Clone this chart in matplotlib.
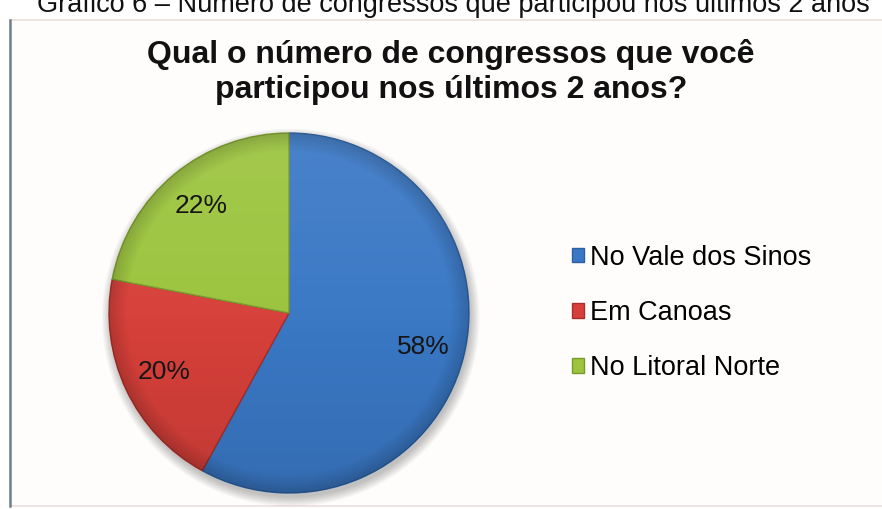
import numpy as np
import matplotlib
matplotlib.use("Agg")
import matplotlib.pyplot as plt
from matplotlib.patches import Rectangle, Circle
from matplotlib.lines import Line2D

plt.rcParams['font.family'] = ['Liberation Sans', 'DejaVu Sans']

# Survey answers
categories = ["No Vale dos Sinos", "Em Canoas", "No Litoral Norte"]
shares = [58, 20, 22]
slice_colors = ["#3a78c5", "#d7403a", "#9cc43e"]
edge_colors = ["#2b5f9e", "#a52f2b", "#789a2c"]

caption = "Gráfico 6 – Número de congressos que participou nos últimos 2 anos"
title_lines = ["Qual o número de congressos que você",
               "participou nos últimos 2 anos?"]

W, H = 882, 509
fig = plt.figure(figsize=(W / 100, H / 100), dpi=100)
fig.patch.set_facecolor("white")


def fx(px):
    return px / W


def fy(py):
    return 1 - py / H


# chart frame (drawn beneath the axes)
frame = Rectangle((fx(10), fy(506)), fx(W + 20) - fx(10), fy(20) - fy(506),
                  transform=fig.transFigure, facecolor="#fffdfc",
                  edgecolor="#eadfda", linewidth=1.2, zorder=-2)
fig.patches.append(frame)
fig.add_artist(Line2D([fx(10), fx(10)], [fy(20), fy(506)], color="#6f7f8e",
                      linewidth=1.8, transform=fig.transFigure, zorder=-1))

# caption above the frame (partly cut off by the top edge)
fig.text(fx(453), fy(12), caption, ha="center", va="baseline", fontsize=19.5,
         color="#111111")

# title
fig.text(fx(451), fy(63), title_lines[0], ha="center", va="baseline",
         fontsize=23, fontweight="bold", color="#111111")
fig.text(fx(451), fy(98), title_lines[1], ha="center", va="baseline",
         fontsize=23, fontweight="bold", color="#111111")

# pie axes: centre (289, 313) px, radius 180 px
cx, cy, r = 289, 313, 180
half = 1.1 * r
ax = fig.add_axes([fx(cx - half), fy(cy + half), 2 * half / W, 2 * half / H])
ax.set_xlim(-1.1, 1.1)
ax.set_ylim(-1.1, 1.1)
ax.set_aspect("equal")
ax.axis("off")
ax.patch.set_alpha(0)

# soft drop shadow
for i in range(8):
    ax.add_patch(Circle((0.01, -0.025), 1.0 + 0.007 * i, facecolor="black",
                        edgecolor="none", alpha=0.03, zorder=0))

wedges, texts, autotexts = ax.pie(
    shares, colors=slice_colors, startangle=90, counterclock=False,
    radius=1.0, autopct=lambda p: f"{p:.0f}%", pctdistance=0.77,
    wedgeprops=dict(linewidth=1.0), textprops=dict(fontsize=19,
                                                   color="#151515"))
for w, ec in zip(wedges, edge_colors):
    w.set_edgecolor(ec)
    w.set_zorder(1)
for t in autotexts:
    t.set_zorder(5)

# gentle shading: lighter top, darker bottom and rim
n = 400
xs = np.linspace(-1.1, 1.1, n)
X, Y = np.meshgrid(xs, xs[::-1])
R = np.hypot(X, Y)
light = np.zeros((n, n, 4))
light[..., :3] = 1.0
light[..., 3] = np.clip((Y + 0.2) / 1.2, 0, 1) * 0.08
dark = np.zeros((n, n, 4))
dark[..., 3] = np.clip(-Y / 1.0, 0, 1) * 0.10 + np.clip((R - 0.9) / 0.1, 0, 1) * 0.16
for w in wedges:
    for img in (light, dark):
        im = ax.imshow(img, extent=(-1.1, 1.1, -1.1, 1.1), zorder=2,
                       interpolation="bilinear")
        im.set_clip_path(w)
ax.set_xlim(-1.1, 1.1)
ax.set_ylim(-1.1, 1.1)

# legend
fig.legend(wedges, categories, loc="center left",
           bbox_to_anchor=(fx(572), fy(313)), frameon=False, fontsize=19.5,
           handlelength=0.45, handleheight=0.45, handletextpad=0.2,
           labelspacing=1.08, borderpad=0, borderaxespad=0)

fig.savefig("out.png", dpi=100)
